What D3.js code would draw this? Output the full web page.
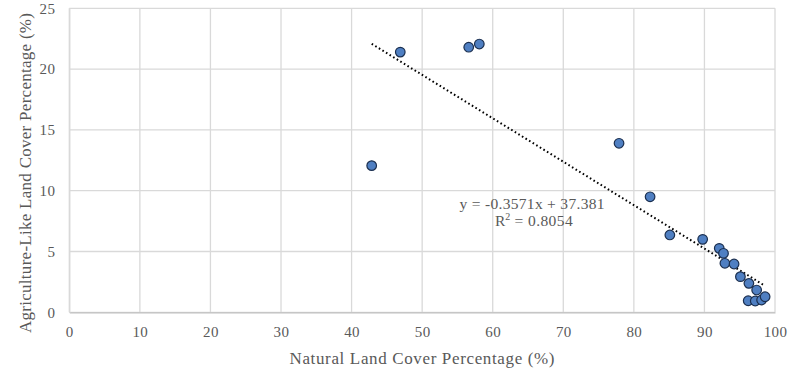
<!DOCTYPE html>
<html>
<head>
<meta charset="utf-8">
<script src="https://cdn.jsdelivr.net/npm/d3@7"></script>
<style>
  html, body { margin: 0; padding: 0; background: #fff; }
  svg { display: block; }
  text { font-family: "Liberation Serif", "DejaVu Serif", serif; fill: #595959; }
</style>
</head>
<body>
<svg id="chart" width="800" height="370"></svg>
<script>
// Data
const naturalPct = [42.85, 46.9, 56.6, 58.1, 77.9, 82.3, 85.1, 89.75, 92.1, 92.7, 92.9, 94.2, 95.1, 96.3, 97.4, 96.2, 97.2, 98.1, 98.6];
const agriPct    = [12.06, 21.4, 21.8, 22.06, 13.9, 9.5, 6.36, 6.0, 5.26, 4.85, 4.03, 3.97, 2.93, 2.38, 1.83, 0.95, 0.93, 1.01, 1.28];
const xTicks = [0, 10, 20, 30, 40, 50, 60, 70, 80, 90, 100];
const yTicks = [0, 5, 10, 15, 20, 25];
const trendSlope = -0.3571;
const trendIntercept = 37.381;
const eqLine1 = "y = -0.3571x + 37.381";
const eqR2 = "0.8054";
const xTitle = "Natural Land Cover Percentage (%)";
const yTitle = "Agriculture-Like Land Cover Percentage (%)";

const svg = d3.select("#chart");
const m = { left: 69.3, right: 775, top: 8.3, bottom: 312.3 };

const x = d3.scaleLinear().domain([0, 100]).range([m.left, m.right]);
const y = d3.scaleLinear().domain([0, 25]).range([m.bottom, m.top]);

// gridlines
const g = svg.append("g");
g.selectAll("line.v").data(xTicks).join("line")
  .attr("x1", d => x(d)).attr("x2", d => x(d))
  .attr("y1", m.top).attr("y2", m.bottom)
  .attr("stroke", "#d9d9d9").attr("stroke-width", 1.3);
g.selectAll("line.h").data(yTicks).join("line")
  .attr("x1", m.left).attr("x2", m.right)
  .attr("y1", d => y(d)).attr("y2", d => y(d))
  .attr("stroke", "#d9d9d9").attr("stroke-width", 1.3);

// axes (labels only)
const xAxis = svg.append("g").attr("transform", `translate(0,${m.bottom})`)
  .call(d3.axisBottom(x).tickValues(xTicks).tickSize(0).tickPadding(14).tickFormat(d3.format("d")));
xAxis.select(".domain").attr("stroke", "#bfbfbf").attr("stroke-width", 1.3);
xAxis.selectAll("text").style("font-size", "15px").style("letter-spacing", "0.4px").attr("fill", "#595959");

const yAxis = svg.append("g").attr("transform", `translate(${m.left},0)`)
  .call(d3.axisLeft(y).tickValues(yTicks).tickSize(0).tickPadding(14).tickFormat(d3.format("d")));
yAxis.select(".domain").attr("stroke", "#d9d9d9").attr("stroke-width", 1.3);
yAxis.selectAll("text").style("font-size", "15px").style("letter-spacing", "0.4px").attr("fill", "#595959");

// trendline over data x range
const xmin = d3.min(naturalPct), xmax = d3.max(naturalPct);
svg.append("line")
  .attr("x1", x(xmin)).attr("y1", y(trendSlope * xmin + trendIntercept))
  .attr("x2", x(xmax)).attr("y2", y(trendSlope * xmax + trendIntercept))
  .attr("stroke", "#000").attr("stroke-width", 2)
  .attr("stroke-dasharray", "1.6,2.6");

// points
const pts = naturalPct.map((d, i) => ({ x: d, y: agriPct[i] }));
svg.append("g").selectAll("circle").data(pts).join("circle")
  .attr("cx", d => x(d.x)).attr("cy", d => y(d.y)).attr("r", 4.8)
  .attr("fill", "#4f7fc2").attr("stroke", "#1b2f4f").attr("stroke-width", 1.2);

// equation
const eq = svg.append("text").attr("text-anchor", "middle").style("font-size", "15.5px");
eq.append("tspan").attr("x", 532).attr("y", 209).attr("textLength", 145).attr("lengthAdjust", "spacing").text(eqLine1);
const l2 = eq.append("tspan").attr("x", 534).attr("y", 226);
l2.append("tspan").text("R");
l2.append("tspan").attr("dy", -6).style("font-size", "10px").text("2");
l2.append("tspan").attr("dy", 6).style("letter-spacing", "0.4px").text(" = " + eqR2);

// titles
svg.append("text").attr("x", 422).attr("y", 364).attr("text-anchor", "middle")
  .style("font-size", "17px").attr("textLength", 265).attr("lengthAdjust", "spacing").text(xTitle);
svg.append("text").attr("transform", "translate(31,173) rotate(-90)").attr("text-anchor", "middle")
  .style("font-size", "17px").attr("textLength", 320).attr("lengthAdjust", "spacing").text(yTitle);
</script>
</body>
</html>
